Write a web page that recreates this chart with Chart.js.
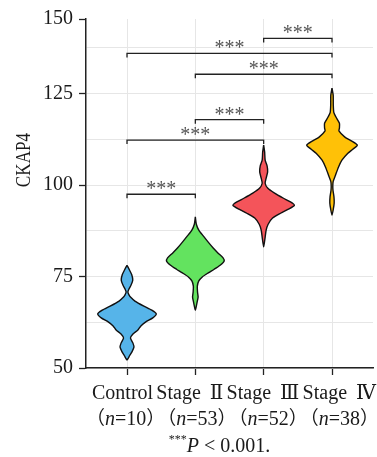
<!DOCTYPE html>
<html>
<head>
<meta charset="utf-8">
<script src="https://cdn.jsdelivr.net/npm/chart.js@4.4.1/dist/chart.umd.min.js"></script>
<style>
html,body{margin:0;padding:0;background:#fff;}
#wrap{position:relative;width:377px;height:457px;}
</style>
</head>
<body>
<div id="wrap"><canvas id="c" width="377" height="457"></canvas></div>
<script>
// ---------------- data ----------------
const categories = ['Control', 'Stage Ⅱ', 'Stage Ⅲ', 'Stage Ⅳ'];
const groupSizes = [10, 53, 52, 38];
const yTickValues = [50, 75, 100, 125, 150];
const yAxisTitle = 'CKAP4';
const footnoteText = ' < 0.001.';

// violin outlines: CKAP4 level (top to bottom) and relative density (half-width)
const controlLevels  = [78.1,76.8,75.5,74.0,72.6,71.6,70.8,70.0,69.4,68.3,66.9,65.8,64.8,63.7,62.6,61.5,60.4,59.3,58.2,56.8,55.7,54.4,53.3,52.2];
const controlDensity = [0,2.5,4.8,5.8,4,2,0.9,2,3.5,8,17,25,29.5,26,19,14,11,6,3.5,6,7,5,2.5,0];

const stage2Levels  = [91.3,89.3,87.7,86.1,84.4,82.8,81.4,80.1,79.2,78.1,77.0,76.0,74.9,73.8,72.4,70.8,69.4,68.0,66.9,65.8];
const stage2Density = [0,1,3.5,8,13,18,23,28,29,25,19,13,7,3.5,2,2.2,2.8,1.8,1,0];

const stage3Levels  = [110.9,109.0,106.8,105.2,103.6,101.9,100.5,99.2,97.8,96.4,95.4,94.5,93.4,92.3,91.0,89.3,87.7,85.8,83.1];
const stage3Density = [0,1,1.5,3.5,4,2.5,1.5,4,11,20,27,31,25,17,9,4.5,2.5,1.5,0];

const stage4Levels  = [126.5,124.6,121.9,119.9,118.6,116.9,115.6,114.8,113.1,112.0,110.9,109.8,108.7,106.8,104.9,102.7,101.0,99.8,98.6,96.7,95.1,93.4,91.8];
const stage4Density = [0,1.2,1.3,1.8,4,7.5,7.5,7,13,20,25.5,21,16,10,6.5,3.5,1.2,0.8,1,2,2.2,1.3,0];

// significance brackets
const comparisonPairs  = [[1,2],[1,3],[2,3],[2,4],[1,4],[3,4]];
const comparisonLevels = [97.5,112.3,117.9,130.3,136.0,140.1];
const comparisonLabels = ['***','***','***','***','***','***'];

// ---------------- styling / layout ----------------
const violinColors = ['#56B4E9', '#63E35F', '#F4545A', '#FFC107'];
const maxHalfWidth = 0.45;          // x-units for the widest violin
const densityMax = 31;
const bracketDrop = 1.1;
const yTop = 145.4;                 // panel top, where the '150' label is printed
const serif = '"Liberation Serif", "Times New Roman", "DejaVu Serif", "Noto Sans CJK SC", serif';
const cjk = '"Noto Sans CJK SC", "Liberation Serif", serif';
const textColor = '#1a1a1a';

const violinSets = [
  [controlLevels, controlDensity],
  [stage2Levels, stage2Density],
  [stage3Levels, stage3Density],
  [stage4Levels, stage4Density]
];

function violinPoints(center, levels, density) {
  const k = maxHalfWidth / densityMax;
  const right = levels.map((v, i) => ({x: center + density[i] * k, y: v}));
  const left = levels.map((v, i) => ({x: center - density[i] * k, y: v})).reverse().slice(1);
  return right.concat(left);
}

const datasets = [];
violinSets.forEach((s, i) => {
  datasets.push({
    label: categories[i],
    data: violinPoints(i + 1, s[0], s[1]),
    showLine: true,
    violinFill: violinColors[i],
    borderColor: '#111',
    borderWidth: 1.4,
    backgroundColor: violinColors[i],
    pointRadius: 0,
    tension: 0.2,
    fill: false
  });
});
comparisonPairs.forEach((p, i) => {
  const h = comparisonLevels[i];
  datasets.push({
    data: [{x: p[0], y: h - bracketDrop}, {x: p[0], y: h}, {x: p[1], y: h}, {x: p[1], y: h - bracketDrop}],
    showLine: true,
    borderColor: '#222',
    borderWidth: 1.3,
    pointRadius: 0,
    tension: 0,
    fill: false
  });
});

const yMinorStep = (yTickValues[1] - yTickValues[0]) / 2;
const isMajor = v => yTickValues.includes(v) || v === yTop;

const violinFillPlugin = {
  id: 'violinFill',
  beforeDatasetDraw(chart, args) {
    const ds = chart.data.datasets[args.index];
    if (!ds.violinFill) return;
    const ctx = chart.ctx;
    const meta = args.meta;
    const el = meta.dataset;
    ctx.save();
    ctx.beginPath();
    if (el && typeof el.path === 'function') {
      el.path(ctx);
    } else {
      meta.data.forEach((p, i) => i ? ctx.lineTo(p.x, p.y) : ctx.moveTo(p.x, p.y));
    }
    ctx.closePath();
    ctx.fillStyle = ds.violinFill;
    ctx.fill();
    ctx.restore();
  }
};

const annotationPlugin = {
  id: 'annotations',
  afterDatasetsDraw(chart) {
    const ctx = chart.ctx;
    const xs = chart.scales.x, ys = chart.scales.y;
    ctx.save();
    ctx.fillStyle = '#555';
    ctx.font = '20px ' + serif;
    ctx.textAlign = 'center';
    ctx.textBaseline = 'alphabetic';
    comparisonPairs.forEach((p, i) => {
      const x = xs.getPixelForValue((p[0] + p[1]) / 2);
      const y = ys.getPixelForValue(comparisonLevels[i]) + 1;
      ctx.fillText(comparisonLabels[i], x, y);
    });
    ctx.restore();
  },
  afterDraw(chart) {
    const ctx = chart.ctx;
    const xs = chart.scales.x;
    const area = chart.chartArea;
    const rowStart = xs.getPixelForValue(1) - 35;
    const rowEnd = area.right + 3;
    ctx.save();
    ctx.fillStyle = textColor;
    ctx.textAlign = 'left';
    ctx.textBaseline = 'alphabetic';

    // first row: category names, justified across the axis
    ctx.font = '20px ' + serif;
    const hasWS = ('wordSpacing' in ctx);
    if (hasWS) ctx.wordSpacing = '4px';
    const widths = categories.map(c => ctx.measureText(c).width);
    const sumW = widths.reduce((a, b) => a + b, 0);
    const gap = Math.max(3, (rowEnd - rowStart - sumW) / (categories.length - 1));
    let x = rowStart;
    categories.forEach((c, i) => {
      ctx.fillText(c, x, area.bottom + 31);
      x += widths[i] + gap;
    });
    if (hasWS) ctx.wordSpacing = '0px';

    // second row: group sizes with italic n
    x = rowStart - 2;
    const pf = '19px ' + cjk, nf = 'italic 20px ' + serif, rf = '20px ' + serif;
    const squeeze = 4;
    groupSizes.forEach(n => {
      ctx.font = pf; let w = ctx.measureText('（').width;
      ctx.fillText('（', x - squeeze, area.bottom + 57); x += w - squeeze;
      ctx.font = nf; ctx.fillText('n', x, area.bottom + 57); x += ctx.measureText('n').width;
      ctx.font = rf; const t = '=' + n; ctx.fillText(t, x, area.bottom + 57); x += ctx.measureText(t).width;
      ctx.font = pf; w = ctx.measureText('）').width;
      ctx.fillText('）', x, area.bottom + 57); x += w - squeeze;
    });

    // footnote
    const fx = (area.left + area.right) / 2 - 10;
    ctx.font = '12px ' + serif; const w1 = ctx.measureText('***').width;
    ctx.font = 'italic 20px ' + serif; const w2 = ctx.measureText('P').width;
    ctx.font = '20px ' + serif; const w3 = ctx.measureText(footnoteText).width;
    let fxs = fx - (w1 + w2 + w3) / 2;
    ctx.font = '12px ' + serif; ctx.fillText('***', fxs, area.bottom + 75); fxs += w1;
    ctx.font = 'italic 20px ' + serif; ctx.fillText('P', fxs, area.bottom + 84); fxs += w2;
    ctx.font = '20px ' + serif; ctx.fillText(footnoteText, fxs, area.bottom + 84);

    // y axis title (condensed, rotated)
    ctx.translate(24.5, area.top + 141);
    ctx.rotate(-Math.PI / 2);
    ctx.scale(0.78, 1);
    ctx.font = '22px ' + serif;
    ctx.textAlign = 'center';
    ctx.textBaseline = 'middle';
    ctx.fillText(yAxisTitle, 0, 0);
    ctx.restore();
  }
};

new Chart(document.getElementById('c'), {
  type: 'scatter',
  data: {datasets},
  plugins: [violinFillPlugin, annotationPlugin],
  options: {
    responsive: false,
    animation: false,
    devicePixelRatio: 1,
    layout: {padding: {top: 19, right: 4, left: 0, bottom: 0}},
    plugins: {legend: {display: false}, tooltip: {enabled: false}},
    scales: {
      x: {
        type: 'linear', min: 0.4, max: 4.6,
        afterBuildTicks: s => { s.ticks = categories.map((c, i) => ({value: i + 1})); },
        afterFit: s => { s.height = 89; },
        ticks: {display: false},
        grid: {color: '#e6e6e6', lineWidth: 1, drawTicks: true, tickLength: 7, tickColor: '#222', tickWidth: 1.3},
        border: {color: '#222', width: 1.5}
      },
      y: {
        type: 'linear', min: yTickValues[0], max: yTop,
        afterBuildTicks: s => {
          const t = [];
          for (let v = yTickValues[0]; v < yTop - 1; v += yMinorStep) t.push({value: v});
          t.push({value: yTop});
          s.ticks = t;
        },
        afterFit: s => { s.width = 86; },
        ticks: {
          callback: v => v === yTop ? String(yTickValues[yTickValues.length - 1]) : (yTickValues.includes(v) ? String(v) : ''),
          autoSkip: false,
          font: {family: serif, size: 20}, color: textColor, padding: 6
        },
        grid: {
          color: c => (c.tick && c.tick.value === yTop) ? 'rgba(0,0,0,0)' : '#e6e6e6',
          lineWidth: 1, drawTicks: true, tickLength: 7,
          tickColor: c => (c.tick && isMajor(c.tick.value)) ? '#222' : 'rgba(0,0,0,0)',
          tickWidth: 1.3
        },
        border: {color: '#222', width: 1.5}
      }
    }
  }
});
</script>
</body>
</html>
